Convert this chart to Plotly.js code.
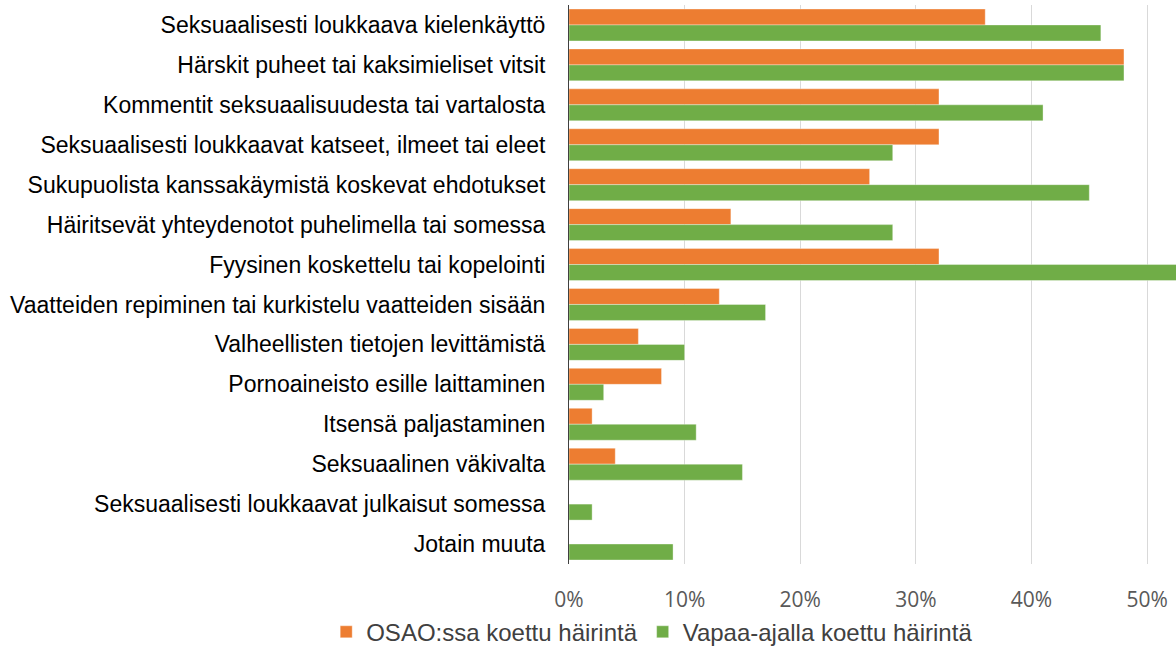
<!DOCTYPE html>
<html>
<head>
<meta charset="utf-8">
<script src="https://cdn.plot.ly/plotly-3.0.1.min.js"></script>
<style>html,body{margin:0;padding:0;background:#fff;}#chart{width:1176px;height:672px;}</style>
</head>
<body>
<div id="chart"></div>
<script>
const categories = [
  "Seksuaalisesti loukkaava kielenkäyttö",
  "Härskit puheet tai kaksimieliset vitsit",
  "Kommentit seksuaalisuudesta tai vartalosta",
  "Seksuaalisesti loukkaavat katseet, ilmeet tai eleet",
  "Sukupuolista kanssakäymistä koskevat ehdotukset",
  "Häiritsevät yhteydenotot puhelimella tai somessa",
  "Fyysinen koskettelu tai kopelointi",
  "Vaatteiden repiminen tai kurkistelu vaatteiden sisään",
  "Valheellisten tietojen levittämistä",
  "Pornoaineisto esille laittaminen",
  "Itsensä paljastaminen",
  "Seksuaalinen väkivalta",
  "Seksuaalisesti loukkaavat julkaisut somessa",
  "Jotain muuta"
];
const osaoValues  = [0.36, 0.48, 0.32, 0.32, 0.26, 0.14, 0.32, 0.13, 0.06, 0.08, 0.02, 0.04, 0, 0];
const vapaaValues = [0.46, 0.48, 0.41, 0.28, 0.45, 0.28, 0.55, 0.17, 0.10, 0.03, 0.11, 0.15, 0.02, 0.09];
const seriesNames = ["OSAO:ssa koettu häirintä", "Vapaa-ajalla koettu häirintä"];
const tickVals = [0, 0.1, 0.2, 0.3, 0.4, 0.5];
const tickText = ["0%", "10%", "20%", "30%", "40%", "50%"];

const data = [
  {type: 'bar', orientation: 'h', name: seriesNames[0], y: categories, x: osaoValues,
   marker: {color: '#ED7D31', line: {color: 'rgba(255,255,255,0.35)', width: 1}}},
  {type: 'bar', orientation: 'h', name: seriesNames[1], y: categories, x: vapaaValues,
   marker: {color: '#70AD47', line: {color: 'rgba(255,255,255,0.35)', width: 1}}}
];

const layout = {
  width: 1176, height: 672,
  margin: {l: 569, r: 0, t: 5, b: 108},
  paper_bgcolor: '#fff', plot_bgcolor: '#fff',
  barmode: 'group', bargap: 0.2, bargroupgap: 0,
  font: {family: 'Liberation Sans, Arial, sans-serif', color: '#000'},
  xaxis: {
    range: [0, 0.525], tickvals: tickVals, ticktext: tickText,
    showgrid: true, gridcolor: '#d9d9d9', gridwidth: 1,
    zeroline: false, showline: false, ticks: '',
    tickfont: {family: 'Open Sans, Liberation Sans, sans-serif', size: 21, color: '#595959'},
    ticklabelstandoff: 21, fixedrange: true
  },
  yaxis: {
    autorange: 'reversed', type: 'category',
    showline: true, linecolor: '#404040', linewidth: 1,
    ticks: '', showgrid: false,
    tickfont: {family: 'Liberation Sans, Arial, sans-serif', size: 23, color: '#000'},
    ticklabelstandoff: 18, fixedrange: true
  },
  showlegend: true,
  legend: {
    orientation: 'h', xref: 'paper', yref: 'paper', x: -0.4, xanchor: 'left', y: -0.122, yanchor: 'middle',
    font: {family: 'Liberation Sans, Arial, sans-serif', size: 24, color: '#404040'},
    itemwidth: 30, traceorder: 'normal'
  }
};

Plotly.newPlot('chart', data, layout, {displayModeBar: false, staticPlot: true});
</script>
</body>
</html>
